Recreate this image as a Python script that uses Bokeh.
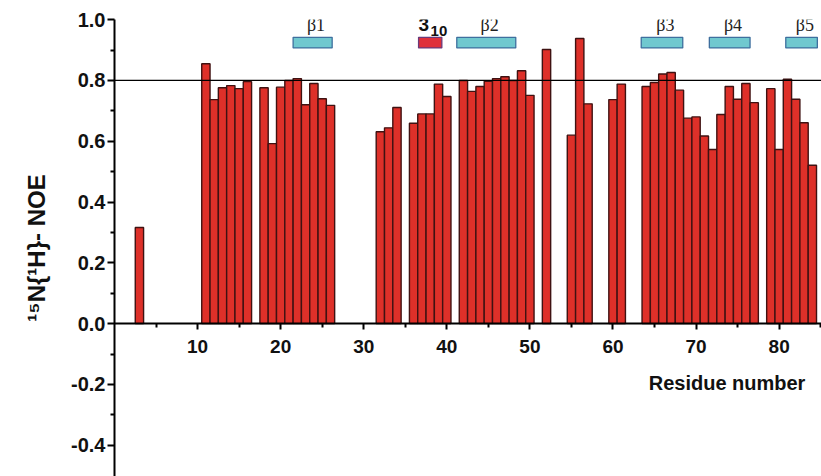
from bokeh.plotting import figure
from bokeh.models import Range1d, FixedTicker, Label, Span, PrintfTickFormatter
from bokeh.embed import file_html
from bokeh.resources import INLINE

# ---- data ----
residues = [3,
            11, 12, 13, 14, 15, 16,
            18, 19, 20, 21, 22, 23, 24, 25, 26,
            32, 33, 34,
            36, 37, 38, 39, 40,
            42, 43, 44, 45, 46, 47, 48, 49, 50,
            52,
            55, 56, 57,
            60, 61,
            64, 65, 66, 67, 68, 69, 70, 71, 72, 73, 74, 75, 76, 77,
            79, 80, 81, 82, 83, 84]
noe = [0.316,
       0.855, 0.737, 0.776, 0.783, 0.773, 0.796,
       0.776, 0.592, 0.778, 0.800, 0.806, 0.720, 0.790, 0.740, 0.718,
       0.631, 0.644, 0.711,
       0.659, 0.690, 0.690, 0.788, 0.747,
       0.800, 0.764, 0.780, 0.797, 0.806, 0.812, 0.800, 0.832, 0.751,
       0.902,
       0.620, 0.938, 0.723,
       0.737, 0.788,
       0.780, 0.793, 0.821, 0.826, 0.768, 0.676, 0.680, 0.617, 0.573, 0.688, 0.780, 0.738, 0.790, 0.727,
       0.773, 0.573, 0.804, 0.738, 0.661, 0.521]

# secondary structure elements (residue extents)
beta_labels = ["β1", "β2", "β3", "β4", "β5"]
beta_start = [21.5, 41.2, 63.4, 71.6, 80.8]
beta_end = [26.2, 48.3, 68.4, 76.5, 84.6]
helix_start = [36.6]
helix_end = [39.4]

threshold = 0.8
x_ticks = [10, 20, 30, 40, 50, 60, 70, 80]
x_minor = [5, 15, 25, 35, 45, 55, 65, 75, 85]
y_ticks = [-0.4, -0.2, 0.0, 0.2, 0.4, 0.6, 0.8, 1.0]
y_minor = [-0.3, -0.1, 0.1, 0.3, 0.5, 0.7, 0.9]

SANS = "Liberation Sans"
SERIF = "Liberation Serif"

p = figure(width=821, height=476,
           x_range=Range1d(0, 85.1), y_range=Range1d(-0.503, 1.0005),
           output_backend="svg", toolbar_location=None,
           min_border_left=114, min_border_right=0,
           min_border_top=19, min_border_bottom=0)
p.grid.visible = False
p.outline_line_color = None
p.background_fill_color = "white"
p.border_fill_color = "white"

# bars
p.vbar(x=residues, top=noe, bottom=0, width=1.0,
       fill_color="#de3029", line_color="#3f1212", line_width=1.4)

# threshold line
p.add_layout(Span(location=threshold, dimension="width",
                  line_color="black", line_width=1.3))

# secondary structure boxes
yb0, yb1 = 0.907, 0.942
p.quad(left=beta_start, right=beta_end, bottom=yb0, top=yb1,
       fill_color="#70c8cf", line_color="#3e6f9e", line_width=1.3)
p.quad(left=helix_start, right=helix_end, bottom=yb0, top=yb1,
       fill_color="#e0303a", line_color="#6a3a7a", line_width=1.3)

for lab, s, e in zip(beta_labels, beta_start, beta_end):
    p.add_layout(Label(x=(s + e) / 2 + 0.4, y=0.984, text=lab,
                       text_align="center", text_baseline="middle",
                       text_font=SERIF, text_font_size="18px",
                       text_color="#222222"))

p.add_layout(Label(x=helix_start[0], y=0.985, text="3",
                   text_align="left", text_baseline="middle",
                   text_font=SANS, text_font_style="bold",
                   text_font_size="19px", text_color="#111111"))
p.add_layout(Label(x=helix_start[0] + 1.45, y=0.962, text="10",
                   text_align="left", text_baseline="middle",
                   text_font=SANS, text_font_style="bold",
                   text_font_size="15px", text_color="#111111"))

# x axis at y = 0
xa = p.xaxis[0]
xa.fixed_location = 0
xa.ticker = FixedTicker(ticks=x_ticks, minor_ticks=x_minor)
xa.axis_line_width = 2
xa.major_tick_line_width = 2
xa.minor_tick_line_width = 2
xa.major_tick_in = 0
xa.major_tick_out = 6
xa.minor_tick_in = 0
xa.minor_tick_out = 4
xa.major_label_standoff = 10
xa.major_label_text_font = SANS
xa.major_label_text_font_style = "bold"
xa.major_label_text_font_size = "19px"
xa.major_label_text_color = "#111111"

p.add_layout(Label(x=64.3, y=-0.197, text="Residue number",
                   text_align="left", text_baseline="middle",
                   text_font=SANS, text_font_style="bold",
                   text_font_size="20px", text_color="#111111"))

# y axis
ya = p.yaxis[0]
ya.ticker = FixedTicker(ticks=y_ticks, minor_ticks=y_minor)
ya.formatter = PrintfTickFormatter(format="%.1f")
ya.axis_line_width = 2
ya.major_tick_line_width = 2
ya.minor_tick_line_width = 2
ya.major_tick_in = 0
ya.major_tick_out = 7
ya.minor_tick_in = 0
ya.minor_tick_out = 4
ya.major_label_standoff = 2
ya.major_label_text_font = SANS
ya.major_label_text_font_style = "bold"
ya.major_label_text_font_size = "20px"
ya.major_label_text_color = "#111111"
ya.axis_label = "¹⁵N{¹H}- NOE"
ya.axis_label_text_font = SANS
ya.axis_label_text_font_style = "bold"
ya.axis_label_text_font_size = "24px"
ya.axis_label_text_color = "#111111"
ya.axis_label_standoff = 18

open("out.html", "w").write(file_html(p, INLINE))
